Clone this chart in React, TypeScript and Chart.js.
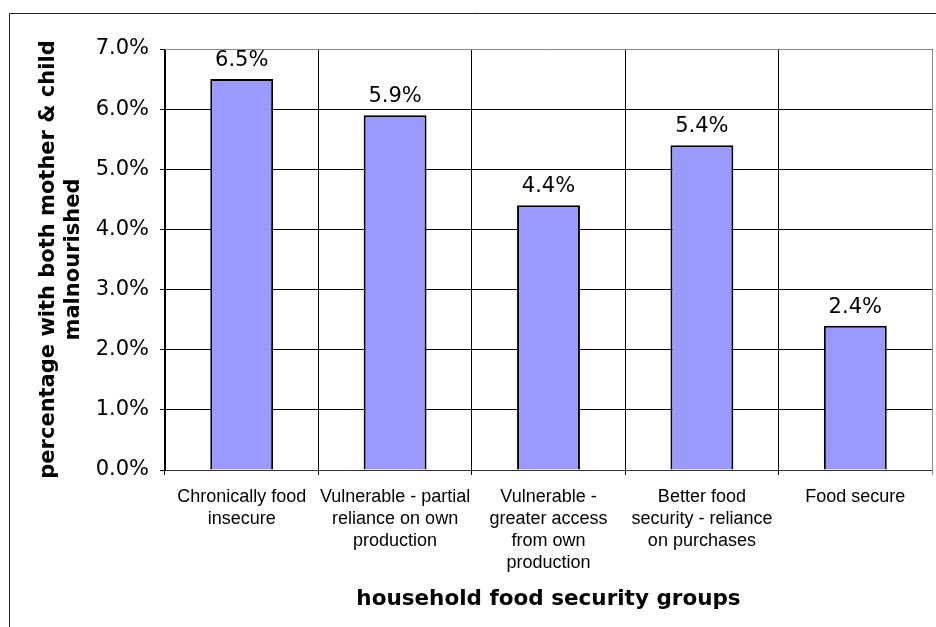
import React, { useEffect, useRef } from "react";
import { Chart, registerables } from "chart.js";

Chart.register(...registerables);

const categories: string[][] = [
  ["Chronically food", "insecure"],
  ["Vulnerable - partial", "reliance on own", "production"],
  ["Vulnerable -", "greater access", "from own", "production"],
  ["Better food", "security - reliance", "on purchases"],
  ["Food secure"],
];
const values: number[] = [6.5, 5.9, 4.4, 5.4, 2.4];
const yTitle: string[] = ["percentage with both mother & child", "malnourished"];
const xTitle = "household food security groups";
const yMin = 0;
const yMax = 7;
const yStep = 1;

const frame = {
  id: "frame",
  afterDraw(chart: any) {
    const { ctx, chartArea } = chart;
    ctx.save();
    ctx.lineWidth = 1;
    ctx.strokeStyle = "#8a8a8a";
    ctx.beginPath();
    ctx.moveTo(chartArea.left, chartArea.top + 0.5);
    ctx.lineTo(chartArea.right + 0.5, chartArea.top + 0.5);
    ctx.lineTo(chartArea.right + 0.5, chartArea.bottom + 5);
    ctx.stroke();
    ctx.strokeStyle = "#222";
    ctx.beginPath();
    ctx.moveTo(936, 13.5);
    ctx.lineTo(9.5, 13.5);
    ctx.lineTo(9.5, 627);
    ctx.stroke();
    ctx.restore();
  },
};

const labelsPlugin = {
  id: "valueLabels",
  afterDatasetsDraw(chart: any) {
    const { ctx } = chart;
    const meta = chart.getDatasetMeta(0);
    ctx.save();
    ctx.font = '21px "DejaVu Sans"';
    ctx.fillStyle = "#000";
    ctx.textAlign = "center";
    ctx.textBaseline = "alphabetic";
    meta.data.forEach((bar: any, i: number) => {
      ctx.fillText(values[i].toFixed(1) + "%", bar.x, bar.y - 13);
    });
    ctx.restore();
  },
};

export default function App() {
  const ref = useRef<HTMLCanvasElement>(null);
  useEffect(() => {
    document.body.style.margin = "0";
    const chart = new Chart(ref.current!, {
      type: "bar",
      data: {
        labels: categories,
        datasets: [
          {
            data: values,
            backgroundColor: "#9999ff",
            borderColor: "#000",
            borderWidth: 2,
            categoryPercentage: 1,
            barPercentage: 0.41,
          },
        ],
      },
      options: {
        responsive: false,
        animation: false,
        devicePixelRatio: 1,
        layout: { padding: { top: 49, right: 4, left: 0, bottom: 0 } },
        plugins: { legend: { display: false }, tooltip: { enabled: false } },
        scales: {
          x: {
            afterFit: (s: any) => {
              s.height = 157;
            },
            grid: { color: "#000", tickLength: 5, offset: true },
            border: { color: "#333" },
            ticks: {
              color: "#000",
              font: { family: '"Liberation Sans", Arial', size: 18, lineHeight: 1.22 },
              padding: 11,
              maxRotation: 0,
              autoSkip: false,
            },
            title: {
              display: true,
              text: xTitle,
              color: "#000",
              font: { family: '"DejaVu Sans"', size: 21.5, weight: "bold", lineHeight: 1.19 },
              padding: { top: 0, bottom: 14.5 },
            },
          },
          y: {
            min: yMin,
            max: yMax,
            afterFit: (s: any) => {
              s.width = 165;
            },
            grid: { color: "#000", tickLength: 5 },
            border: { color: "#000" },
            ticks: {
              stepSize: yStep,
              color: "#000",
              font: { family: '"DejaVu Sans"', size: 21 },
              padding: 11,
              callback: (v: any) => Number(v).toFixed(1) + "%",
            },
            title: {
              display: true,
              text: yTitle,
              color: "#000",
              font: { family: '"DejaVu Sans"', size: 21, weight: "bold", lineHeight: 1.19 },
              padding: { top: 36.5, bottom: 0 },
            },
          },
        },
      },
      plugins: [frame, labelsPlugin],
    });
    return () => chart.destroy();
  }, []);
  return <canvas ref={ref} width={936} height={627} style={{ display: "block" }} />;
}
